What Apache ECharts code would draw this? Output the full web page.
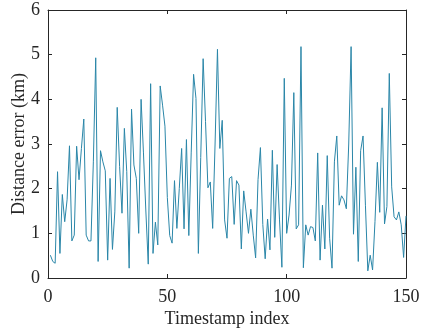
<!DOCTYPE html>
<html>
<head>
<meta charset="utf-8">
<script src="https://cdn.jsdelivr.net/npm/echarts@6/dist/echarts.min.js"></script>
<style>
  html, body { margin: 0; padding: 0; background: #fff; }
  #chart { width: 422px; height: 335px; }
</style>
</head>
<body>
<div id="chart"></div>
<script>
// Distance error per timestamp (km), timestamps 1..150
const distanceError = [
  0.51, 0.37, 0.33, 2.38, 0.55, 1.87, 1.26, 1.75, 2.96, 0.83,
  0.96, 2.95, 2.20, 2.90, 3.56, 0.96, 0.83, 0.83, 2.60, 4.93,
  0.37, 2.85, 2.60, 2.40, 0.40, 2.23, 0.64, 1.48, 3.82, 2.50,
  1.45, 3.35, 2.38, 0.22, 3.78, 2.53, 2.23, 1.00, 4.00, 2.80,
  1.50, 0.31, 4.35, 0.55, 1.25, 0.74, 4.30, 3.87, 3.40, 1.80,
  0.95, 0.78, 2.18, 1.11, 2.00, 2.90, 1.10, 3.10, 0.95, 2.80,
  4.56, 4.02, 0.55, 2.70, 4.91, 3.50, 2.02, 2.15, 1.11, 3.00,
  5.12, 2.90, 3.53, 1.30, 0.89, 2.23, 2.27, 1.20, 2.18, 2.08,
  0.65, 1.95, 1.48, 1.00, 1.54, 0.96, 0.45, 2.20, 2.92, 1.20,
  0.43, 1.32, 0.63, 2.86, 0.91, 2.54, 1.30, 0.24, 4.47, 1.00,
  1.41, 2.08, 4.15, 1.10, 1.19, 5.18, 0.23, 1.19, 0.96, 1.15,
  1.13, 0.83, 2.80, 0.40, 1.63, 0.65, 2.74, 0.89, 0.22, 2.60,
  3.18, 1.63, 1.84, 1.75, 1.55, 3.00, 5.18, 0.98, 2.48, 0.37,
  2.85, 3.18, 1.63, 0.16, 0.51, 0.18, 1.26, 2.59, 1.47, 3.81,
  1.21, 1.60, 4.58, 2.04, 1.37, 1.30, 1.48, 1.19, 0.46, 1.39
];
const xTicks = { min: 0, max: 150, interval: 50 };
const yTicks = { min: 0, max: 6, interval: 1 };

const points = distanceError.map((v, i) => [i + 1, v]);

const font = 'Liberation Serif';
const ink = '#262626';

// shared styling for the four sides of the axes box
const boxAxis = {
  axisLine: { show: true, onZero: false, lineStyle: { color: ink, width: 1 } },
  axisTick: { show: true, inside: true, length: 4, lineStyle: { color: ink } },
  splitLine: { show: false }
};

const chart = echarts.init(document.getElementById('chart'), null, { renderer: 'canvas' });
chart.setOption({
  animation: false,
  grid: { left: 48, right: 16, top: 10, bottom: 57, containLabel: false, outerBoundsMode: 'none' },
  xAxis: [
    Object.assign({
      type: 'value', position: 'bottom', ...xTicks,
      name: 'Timestamp index', nameLocation: 'middle', nameGap: 32, nameMoveOverlap: false,
      nameTextStyle: { fontFamily: font, fontSize: 18, color: ink },
      axisLabel: { fontFamily: font, fontSize: 18, color: ink, margin: 10 }
    }, boxAxis),
    Object.assign({
      type: 'value', position: 'top', ...xTicks,
      axisLabel: { show: false }
    }, boxAxis)
  ],
  yAxis: [
    Object.assign({
      type: 'value', position: 'left', ...yTicks,
      name: 'Distance error (km)', nameLocation: 'middle', nameGap: 20, nameMoveOverlap: false,
      nameTextStyle: { fontFamily: font, fontSize: 18, color: ink },
      axisLabel: { fontFamily: font, fontSize: 18, color: ink, margin: 8 }
    }, boxAxis),
    Object.assign({
      type: 'value', position: 'right', ...yTicks,
      axisLabel: { show: false }
    }, boxAxis)
  ],
  series: [{
    type: 'line',
    data: points,
    showSymbol: false,
    lineStyle: { color: '#2a86a8', width: 1 },
    xAxisIndex: 0,
    yAxisIndex: 0
  }]
});
</script>
</body>
</html>
